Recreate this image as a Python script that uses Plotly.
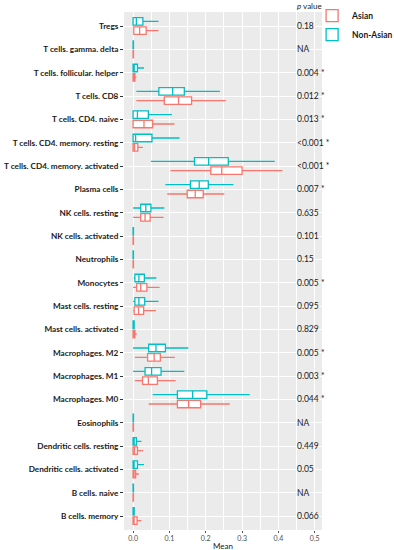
import plotly.graph_objects as go

categories = ["Tregs", "T cells. gamma. delta", "T cells. follicular. helper", "T cells. CD8",
              "T cells. CD4. naive", "T cells. CD4. memory. resting", "T cells. CD4. memory. activated",
              "Plasma cells", "NK cells. resting", "NK cells. activated", "Neutrophils", "Monocytes",
              "Mast cells. resting", "Mast cells. activated", "Macrophages. M2", "Macrophages. M1",
              "Macrophages. M0", "Eosinophils", "Dendritic cells. resting", "Dendritic cells. activated",
              "B cells. naive", "B cells. memory"]

p_values = ["0.18", "NA", "0.004 *", "0.012 *", "0.013 *", "<0.001 *", "<0.001 *", "0.007 *",
            "0.635", "0.101", "0.15", "0.005 *", "0.095", "0.829", "0.005 *", "0.003 *", "0.044 *",
            "NA", "0.449", "0.05", "NA", "0.066"]

# Non-Asian box statistics
na_low = [0.0, 0.0, 0.0, 0.009, 0.0, 0.0, 0.049, 0.089, 0.0, 0.0, 0.0, 0.002, 0.0, 0.0, 0.0, 0.0, 0.054, 0.0, 0.0, 0.0, 0.0, 0.0]
na_q1 = [0.0, 0.0, 0.0, 0.071, 0.0, 0.0, 0.169, 0.158, 0.021, 0.0, 0.0, 0.005, 0.005, 0.0, 0.043, 0.033, 0.122, 0.0, 0.0, 0.0, 0.0, 0.0]
na_med = [0.009, 0.0, 0.003, 0.109, 0.012, 0.007, 0.208, 0.182, 0.035, 0.0, 0.0, 0.016, 0.016, 0.001, 0.063, 0.051, 0.164, 0.0, 0.003, 0.001, 0.0, 0.001]
na_q3 = [0.027, 0.001, 0.012, 0.141, 0.042, 0.052, 0.262, 0.207, 0.049, 0.001, 0.001, 0.031, 0.032, 0.003, 0.089, 0.077, 0.203, 0.001, 0.009, 0.012, 0.001, 0.003]
na_high = [0.070, 0.002, 0.030, 0.239, 0.107, 0.128, 0.390, 0.276, 0.086, 0.002, 0.002, 0.064, 0.070, 0.004, 0.152, 0.141, 0.321, 0.002, 0.023, 0.030, 0.002, 0.004]

# Asian box statistics
as_low = [0.0, 0.0, 0.0, 0.009, 0.0, 0.0, 0.103, 0.094, 0.0, 0.0, 0.0, 0.0, 0.0, 0.0, 0.005, 0.005, 0.043, 0.0, 0.0, 0.0, 0.0, 0.0]
as_q1 = [0.002, 0.0, 0.0, 0.086, 0.0, 0.0, 0.214, 0.149, 0.021, 0.0, 0.0, 0.010, 0.003, 0.0, 0.040, 0.026, 0.122, 0.0, 0.0, 0.0, 0.0, 0.0]
as_med = [0.018, 0.0, 0.002, 0.125, 0.030, 0.004, 0.244, 0.171, 0.033, 0.0, 0.0, 0.021, 0.015, 0.002, 0.058, 0.042, 0.153, 0.0, 0.004, 0.001, 0.0, 0.001]
as_q3 = [0.036, 0.001, 0.005, 0.161, 0.054, 0.013, 0.300, 0.193, 0.047, 0.001, 0.001, 0.038, 0.029, 0.005, 0.075, 0.067, 0.186, 0.001, 0.012, 0.007, 0.001, 0.011]
as_high = [0.070, 0.002, 0.009, 0.255, 0.114, 0.027, 0.411, 0.251, 0.084, 0.002, 0.002, 0.073, 0.063, 0.010, 0.115, 0.117, 0.266, 0.002, 0.028, 0.016, 0.002, 0.023]

x_ticks = [0.0, 0.1, 0.2, 0.3, 0.4, 0.5]
x_tick_labels = ["0.0", "0.1", "0.2", "0.3", "0.4", "0.5"]

ASIAN = "#F8766D"
NONASIAN = "#00BFC4"

fig = go.Figure()
fig.add_trace(go.Box(
    name="<b>Non-Asian</b>", y=categories, orientation="h",
    lowerfence=na_low, q1=na_q1, median=na_med, q3=na_q3, upperfence=na_high,
    line=dict(color=NONASIAN, width=1.3), fillcolor="white", whiskerwidth=0,
    boxpoints=False, legendrank=2, hoverinfo="x+name"))
fig.add_trace(go.Box(
    name="<b>Asian</b>", y=categories, orientation="h",
    lowerfence=as_low, q1=as_q1, median=as_med, q3=as_q3, upperfence=as_high,
    line=dict(color=ASIAN, width=1.3), fillcolor="white", whiskerwidth=0,
    boxpoints=False, legendrank=1, hoverinfo="x+name"))

for cat, p in zip(categories, p_values):
    fig.add_annotation(x=0.445, y=cat, xref="x", yref="y", text=p, showarrow=False,
                       xanchor="left", yanchor="middle",
                       font=dict(family="Lato", size=8.5, color="#1a1a1a"))

fig.add_annotation(x=0.445, y=1, xref="x", yref="paper", text="<i>p</i> value", showarrow=False,
                   xanchor="left", yanchor="bottom", yshift=-1,
                   font=dict(family="Lato", size=8, color="#1a1a1a"))

fig.add_annotation(x=0.5, y=0, xref="paper", yref="paper", text="Mean", showarrow=False,
                   xanchor="center", yanchor="top", yshift=-9,
                   font=dict(family="Lato", size=8, color="#1a1a1a"))

fig.update_layout(
    width=394, height=550,
    margin=dict(l=124, r=72, t=12, b=20, autoexpand=False),
    paper_bgcolor="white", plot_bgcolor="#EBEBEB",
    boxmode="group", boxgap=0.2, boxgroupgap=0.2,
    showlegend=True,
    legend=dict(x=0.95, y=1.021, xanchor="left", yanchor="top", bgcolor="rgba(0,0,0,0)",
                font=dict(family="Lato", size=8.5, color="#1a1a1a"),
                itemwidth=30, tracegroupgap=2),
    font=dict(family="Lato"),
)
fig.update_xaxes(range=[-0.025, 0.52], tickvals=x_ticks, ticktext=x_tick_labels,
                 showgrid=True, gridcolor="white", gridwidth=1, zeroline=False,
                 ticks="outside", ticklen=2, tickcolor="#555",
                 tickfont=dict(family="Lato", size=7, color="#4D4D4D"),
                 minor=dict(dtick=0.05, tick0=0, showgrid=True, gridcolor="white", gridwidth=0.5),
                 automargin=False)
fig.update_yaxes(type="category", categoryorder="array", categoryarray=categories,
                 range=[21.6, -0.6], showgrid=True, gridcolor="white", gridwidth=1,
                 ticks="outside", ticklen=3, tickcolor="#333",
                 tickfont=dict(family="Lato", size=8.2, color="#1a1a1a", weight="bold"),
                 automargin=False)

fig.write_html("out.html", config={"displayModeBar": False},
               post_script="document.body.style.margin='0px';")
